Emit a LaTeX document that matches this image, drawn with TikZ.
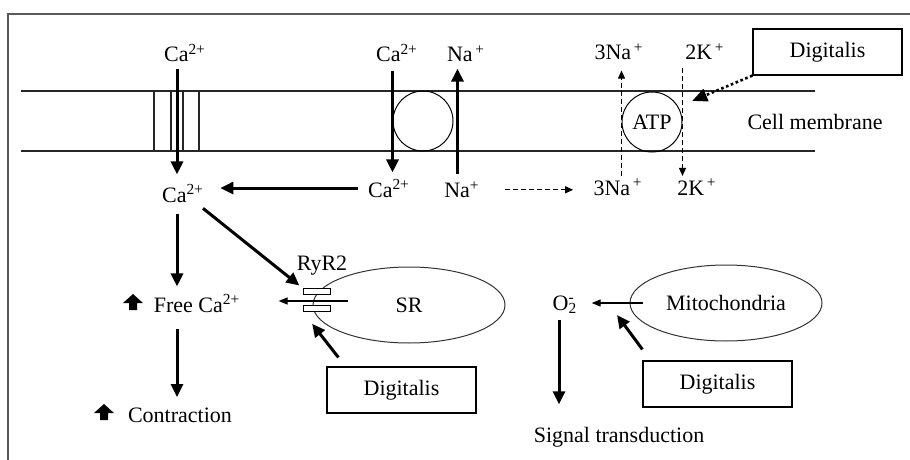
\documentclass[tikz,border=0pt]{standalone}
\usepackage{fontspec}
\setmainfont{Liberation Serif}
\usetikzlibrary{arrows.meta,positioning,shapes.geometric}

\tikzset{
  membrane/.style={line width=0.6pt, black!85},
  flow/.style={-{Triangle[length=6.5pt,width=6pt]}, line width=1.5pt},
  thin flow/.style={-{Triangle[length=4.5pt,width=3.5pt]}, line width=0.6pt},
  pump flow/.style={-{Triangle[length=4pt,width=3.5pt]}, line width=0.6pt, dash pattern=on 2.5pt off 1.5pt},
  drug link/.style={-{Triangle[length=7.5pt,width=6.5pt]}, line width=1.3pt, dash pattern=on 1.3pt off 1.3pt},
  ion/.style={anchor=base, inner sep=1pt},
  carrier/.style={draw, circle, minimum size=30pt, inner sep=0pt, line width=0.5pt},
  organelle/.style={draw=black!80, ellipse, minimum width=96pt, minimum height=38pt, line width=0.5pt},
  drugbox/.style={draw, rectangle, minimum width=74.5pt, minimum height=23pt, line width=0.6pt},
  gate/.style={draw, fill=white, rectangle, minimum width=13.5pt, minimum height=3pt, inner sep=0pt, line width=0.5pt}
}

\begin{document}
\begin{tikzpicture}[x=0.5pt, y=-0.5pt, font=\fontsize{11}{13}\selectfont]
  \useasboundingbox (0,0) rectangle (910,460);
  \draw[line width=1pt, black!65] (8,460) -- (8,14) -- (910,14);

  % membrane with Ca channel, exchanger and pump
  \draw[membrane] (21,91) -- (815,91);
  \draw[membrane] (21,151) -- (815,151);
  \foreach \x in {154,171,183,199}
    \draw[membrane] (\x,91) -- (\x,151);
  \coordinate (chan) at (177,121);
  \node[carrier] (ncx) at (423,121) {};
  \node[carrier] (atp) at (652,122) {ATP};
  \coordinate (ncx_ca) at (ncx.west);
  \coordinate (ncx_na) at ([xshift=2pt]ncx.east);
  \node (cellmem) at (815,122) {Cell membrane};

  % ions outside / inside
  \node[ion] (ca_out) at (185,62) {Ca\textsuperscript{2+}};
  \node[ion] (ca_in) at (183,202) {Ca\textsuperscript{2+}};
  \node[ion] (ncx_ca_out) at (397,62) {Ca\textsuperscript{2+}};
  \node[ion] (ncx_na_out) at (466,62) {Na\textsuperscript{\,+}};
  \node[ion] (ncx_ca_in) at (389,197) {Ca\textsuperscript{2+}};
  \node[ion] (ncx_na_in) at (462,198) {Na\textsuperscript{+}};
  \node[ion] (pump_na_out) at (619,60) {3Na\textsuperscript{\,+}};
  \node[ion] (pump_k_out) at (705,60) {2K\textsuperscript{\,+}};
  \node[ion] (pump_na_in) at (618,195) {3Na\textsuperscript{\,+}};
  \node[ion] (pump_k_in) at (697,195) {2K\textsuperscript{\,+}};

  % digitalis and organelles
  \node[drugbox] (dig_top) at (827.5,52) {Digitalis};
  \node[organelle] (sr) at (409,305) {SR};
  \node[organelle] (mito) at (726,303) {Mitochondria};
  \node[drugbox] (dig_sr) at (401.5,390) {Digitalis};
  \node[drugbox] (dig_mito) at (717.5,384) {Digitalis};

  % RyR2 on the SR
  \node[gate] (ryr_up) at (316.5,291.5) {};
  \node[gate] (ryr_dn) at (316.5,308) {};
  \node[ion] (ryr) at (322,270) {RyR2};
  \coordinate (sr_release) at (348,301);

  % cascade below
  \node[ion] (free_ca) at (197,312) {Free Ca\textsuperscript{2+}};
  \node[ion] (contraction) at (180,422) {Contraction};
  \foreach \ix/\iy in {133/302, 104/412}
    \fill (\ix,\iy-8) -- (\ix+10,\iy+1) -- (\ix+4,\iy+1) -- (\ix+4,\iy+8)
      -- (\ix-4,\iy+8) -- (\ix-4,\iy+1) -- (\ix-10,\iy+1) -- cycle;
  \node[ion] (o2) at (565,310) {O\rlap{\textsuperscript{-}}\textsubscript{2}};
  \node[ion] (signal) at (619,442) {Signal transduction};
  \coordinate (mito_target) at (617,315);

  \draw[flow, shorten <=2pt, shorten >=3.5pt] (ca_out.south -| chan) -- (ca_in.north -| chan);
  \draw[flow, shorten <=3pt, shorten >=2pt] (ncx_ca_out.south -| ncx_ca) -- (ncx_ca_in.north -| ncx_ca);
  \draw[flow, shorten <=2.5pt, shorten >=2pt] (ncx_na_in.north -| ncx_na) -- (ncx_na_out.south -| ncx_na);
  \draw[flow, shorten <=4pt, shorten >=7pt] (ncx_ca_in.west) -- (ca_in.east |- ncx_ca_in.west);
  \draw[pump flow, shorten <=11.5pt, shorten >=9pt] (ncx_na_in.east) -- (pump_na_in.west |- ncx_na_in.east);
  \draw[pump flow, shorten >=4pt] (pump_na_in.north -| atp.west) -- (pump_na_out.south -| atp.west);
  \draw[pump flow, shorten <=3pt] (pump_k_out.south -| atp.east) -- (pump_k_in.north -| atp.east);
  \draw[drug link, shorten >=7.5pt] (dig_top.south west) -- (atp.30);

  \draw[flow, shorten <=4.5pt, shorten >=2.5pt] (ca_in.south -| chan) -- (free_ca.north -| chan);
  \draw[flow, shorten <=7pt, shorten >=4pt] (free_ca.south -| chan) -- (contraction.north -| chan);
  \draw[flow, shorten <=3pt, shorten >=2pt] ([xshift=-4pt]ca_in.south east) -- (ryr_up.north west);
  \draw[thin flow, shorten >=18pt] (sr_release) -- (free_ca.east |- sr_release);
  \draw[flow, shorten >=7.8pt] ([xshift=6pt, yshift=4.5pt]dig_sr.north west) -- (ryr_dn.south west);

  \draw[thin flow, shorten <=-6.5pt, shorten >=6pt] (mito.west) -- (o2.east |- mito.west);
  \draw[flow] ([yshift=5.5pt]dig_mito.north west) -- (mito_target);
  \draw[flow, shorten <=2pt, shorten >=10pt] ([xshift=-3pt]o2.south) -- ([xshift=-3pt]o2.south |- signal.north);
\end{tikzpicture}
\end{document}
